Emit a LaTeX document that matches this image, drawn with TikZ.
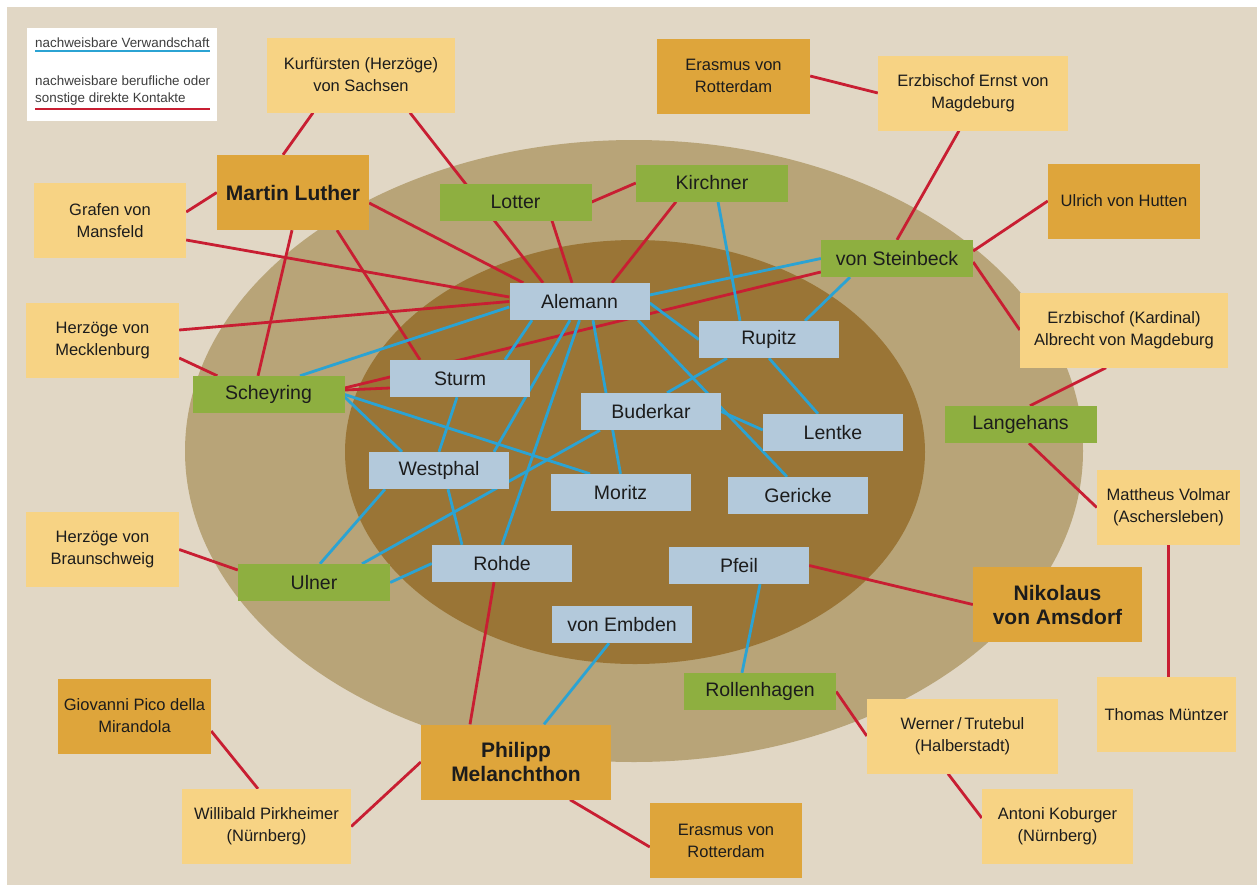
\documentclass[tikz,border=0pt]{standalone}
\usepackage{fontspec}
\setmainfont{Liberation Sans}

\definecolor{paper}{HTML}{E1D7C5}
\definecolor{ringout}{HTML}{B8A478}
\definecolor{ringin}{HTML}{9A7536}
\definecolor{sand}{HTML}{F7D384}
\definecolor{amber}{HTML}{DEA53B}
\definecolor{leaf}{HTML}{8EAF40}
\definecolor{sky}{HTML}{B3C9DB}
\definecolor{kinblue}{HTML}{2BA3D3}
\definecolor{contactred}{HTML}{C81E32}
\definecolor{ink}{HTML}{1C1C1C}

\pgfdeclarelayer{back}
\pgfdeclarelayer{wires}
\pgfsetlayers{back,wires,main}

\tikzset{
	box/.style={inner sep=0pt, align=center, text=ink},
	kin/.style={draw=kinblue, line width=2.8pt},
	contact/.style={draw=contactred, line width=2.8pt},
	inner/.style={box, fill=sky, minimum width=140pt, minimum height=37pt, font=\fontsize{19.5}{22}\selectfont},
	ring/.style={box, fill=leaf, minimum width=152pt, minimum height=37pt, font=\fontsize{19.5}{22}\selectfont},
	outside/.style={box, fill=sand, minimum height=75pt, font=\fontsize{16.5}{22}\selectfont},
	famous/.style={box, fill=amber, minimum height=75pt, font=\fontsize{16.5}{22}\selectfont},
	reformer/.style={famous, font=\bfseries\fontsize{21}{24}\selectfont},
	legendtext/.style={inner sep=0pt, anchor=west, align=left, text=ink!85, font=\fontsize{13.4}{17}\selectfont}
}

\begin{document}
\begin{tikzpicture}[x=1pt, y=-1pt]
	\useasboundingbox (0,0) rectangle (1259,887);

	% Rings
	\begin{pgfonlayer}{back}
		\fill[white] (0,0) rectangle (1259,887);
		\fill[paper] (7,7) rectangle (1257,885);
		\fill[ringout] (634,451) ellipse [x radius=449pt, y radius=311pt];
		\fill[ringin] (635,452) ellipse [x radius=290pt, y radius=212pt];
	\end{pgfonlayer}

	% Legend
	\node[fill=white, inner sep=0pt, minimum width=190pt, minimum height=93pt] (legend) at (122,74.5) {};
	\node[legendtext] (legkin) at (35,43) {nachweisbare Verwandschaft};
	\node[legendtext] (legcon) at (35,90.5) {nachweisbare berufliche oder\\sonstige direkte Kontakte};
	\draw[kin, line width=2.2pt] ([yshift=-8pt]legkin.west) -- ++(175,0);
	\draw[contact, line width=2.2pt] ([yshift=-18.5pt]legcon.west) -- ++(175,0);

	% Inner ring
	\node[inner] (alemann) at (579.5,301.5) {Alemann};
	\node[inner] (rupitz) at (769,339.5) {Rupitz};
	\node[inner] (sturm) at (460,378.5) {Sturm};
	\node[inner] (buderkar) at (651,411.5) {Buderkar};
	\node[inner] (lentke) at (833,432.5) {Lentke};
	\node[inner] (westphal) at (439,470.5) {Westphal};
	\node[inner] (moritz) at (620.5,492.5) {Moritz};
	\node[inner] (gericke) at (798,495.5) {Gericke};
	\node[inner] (rohde) at (502,563.5) {Rohde};
	\node[inner] (pfeil) at (739,565.5) {Pfeil};
	\node[inner] (embden) at (622,624.5) {von Embden};

	% Outer ring
	\node[ring] (lotter) at (515.5,202) {Lotter};
	\node[ring] (kirchner) at (712,183) {Kirchner};
	\node[ring] (steinbeck) at (897,258.5) {von Steinbeck};
	\node[ring] (scheyring) at (268.5,394.5) {Scheyring};
	\node[ring] (ulner) at (314,582.5) {Ulner};
	\node[ring] (langehans) at (1020.5,424.5) {Langehans};
	\node[ring] (rollenhagen) at (760,691.5) {Rollenhagen};

	% Outside
	\node[outside, minimum width=188pt] (kurf) at (361,75) {Kurfürsten (Herzöge)\\von Sachsen};
	\node[outside, minimum width=152pt] (grafen) at (110,220.5) {Grafen von\\Mansfeld};
	\node[outside, minimum width=190pt] (ernst) at (973,93) {Erzbischof Ernst von\\Magdeburg};
	\node[outside, minimum width=153pt] (meckl) at (102.5,340.5) {Herzöge von\\Mecklenburg};
	\node[outside, minimum width=153pt] (braun) at (102.5,549.5) {Herzöge von\\Braunschweig};
	\node[outside, minimum width=208pt] (albrecht) at (1124,330) {Erzbischof (Kardinal)\\Albrecht von Magdeburg};
	\node[outside, minimum width=143pt] (volmar) at (1168.5,507.5) {Mattheus Volmar\\(Aschersleben)};
	\node[outside, minimum width=139pt] (muentzer) at (1166.5,714.5) {Thomas Müntzer};
	\node[outside, minimum width=191pt] (werner) at (962.5,736) {Werner\,/\,Trutebul\\(Halberstadt)};
	\node[outside, minimum width=151pt] (koburger) at (1057.5,826.5) {Antoni Koburger\\(Nürnberg)};
	\node[outside, minimum width=169pt] (pirkheimer) at (266.5,826.5) {Willibald Pirkheimer\\(Nürnberg)};

	\node[famous, minimum width=153pt] (erasmusA) at (733.5,76) {Erasmus von\\Rotterdam};
	\node[famous, minimum width=152pt] (hutten) at (1124,201) {Ulrich von Hutten};
	\node[famous, minimum width=152pt] (erasmusB) at (726,840.5) {Erasmus von\\Rotterdam};
	\node[famous, minimum width=153pt] (pico) at (134.5,716) {Giovanni Pico della\\Mirandola};

	\node[reformer, minimum width=152pt] (luther) at (293,192.5) {Martin Luther};
	\node[reformer, minimum width=190pt] (melanchthon) at (516,762) {Philipp\\Melanchthon};
	\node[reformer, minimum width=169pt] (amsdorf) at (1057.5,604.5) {Nikolaus\\von Amsdorf};

	\begin{pgfonlayer}{wires}
		% Contacts
		\draw[contact] ([xshift=-48pt]kurf.south) -- ([xshift=-10pt]luther.north);
		\draw[contact] ([xshift=49pt]kurf.south) -- ([xshift=-36.5pt]alemann.north);
		\draw[contact] (luther.west) -- ([yshift=8.5pt]grafen.east);
		\draw[contact] ([yshift=-10.5pt]luther.east) -- ([xshift=14pt]alemann.north west);
		\draw[contact] ([xshift=44pt]luther.south) -- ([xshift=-40pt]sturm.north);
		\draw[contact] ([xshift=-1pt]luther.south) -- ([xshift=-10.5pt]scheyring.north);
		\draw[contact] ([yshift=-19.5pt]grafen.east) -- ([yshift=4.5pt]alemann.west);
		\draw[contact] ([yshift=10.5pt]meckl.east) -- (alemann.west);
		\draw[contact] ([yshift=-17.5pt]meckl.east) -- ([xshift=25pt]scheyring.north west);
		\draw[contact] ([yshift=4.5pt]scheyring.east) -- ([yshift=-9.5pt]sturm.west);
		\draw[contact] ([yshift=6.5pt]scheyring.east) -- ([yshift=-13.5pt]steinbeck.west);
		\draw[contact] ([xshift=36.5pt]lotter.south) -- ([xshift=-7.5pt]alemann.north);
		\draw[contact] (lotter.east) -- (kirchner.west);
		\draw[contact] ([xshift=-36pt]kirchner.south) -- ([xshift=32.5pt]alemann.north);
		\draw[contact] (erasmusA.east) -- (ernst.west);
		\draw[contact] ([xshift=-14pt]ernst.south) -- (steinbeck.north);
		\draw[contact] (hutten.west) -- ([yshift=7.5pt]steinbeck.east);
		\draw[contact] ([yshift=-3.5pt]steinbeck.east) -- (albrecht.west);
		\draw[contact] ([xshift=-18pt]albrecht.south) -- ([xshift=9.5pt]langehans.north);
		\draw[contact] ([xshift=8.5pt]langehans.south) -- (volmar.west);
		\draw[contact] (volmar.south) -- (volmar.south |- muentzer.north);
		\draw[contact] (pfeil.east) -- (amsdorf.west);
		\draw[contact] (rollenhagen.east) -- (werner.west);
		\draw[contact] ([xshift=-14.5pt]werner.south) -- ([yshift=8.5pt]koburger.west);
		\draw[contact] ([xshift=-8pt]rohde.south) -- ([xshift=-46pt]melanchthon.north);
		\draw[contact] (melanchthon.west) -- (pirkheimer.east);
		\draw[contact] ([yshift=-15pt]pico.east) -- ([xshift=-8.5pt]pirkheimer.north);
		\draw[contact] ([xshift=54pt]melanchthon.south) -- ([yshift=-6.5pt]erasmusB.west);
		\draw[contact] (braun.east) -- ([yshift=12.5pt]ulner.west);

		% Kinship
		\draw[kin] ([yshift=6.5pt]alemann.east) -- (steinbeck.west);
		\draw[kin] ([yshift=-5.5pt]alemann.west) -- ([xshift=31.5pt]scheyring.north);
		\draw[kin] ([yshift=-1.5pt]alemann.east) -- (rupitz.west);
		\draw[kin] ([xshift=-47.5pt]alemann.south) -- ([xshift=45pt]sturm.north);
		\draw[kin] ([xshift=-9.5pt]alemann.south) -- ([xshift=55pt]westphal.north);
		\draw[kin] (alemann.south) -- (rohde.north);
		\draw[kin] ([xshift=13.5pt]alemann.south) -- (moritz.north);
		\draw[kin] ([xshift=58.5pt]alemann.south) -- ([xshift=-11pt]gericke.north);
		\draw[kin] ([xshift=6pt]kirchner.south) -- ([xshift=-29pt]rupitz.north);
		\draw[kin] ([xshift=-47pt]steinbeck.south) -- ([xshift=36pt]rupitz.north);
		\draw[kin] ([xshift=-42pt]rupitz.south) -- ([xshift=16pt]buderkar.north);
		\draw[kin] (rupitz.south) -- ([xshift=-15pt]lentke.north);
		\draw[kin] (buderkar.east) -- ([yshift=2.5pt]lentke.west);
		\draw[kin] ([xshift=-51pt]buderkar.south) -- ([xshift=48pt]ulner.north);
		\draw[kin] ([yshift=-2.5pt]scheyring.east) -- ([xshift=-37pt]westphal.north);
		\draw[kin] (scheyring.east) -- ([xshift=-30.5pt]moritz.north);
		\draw[kin] ([xshift=-3pt]sturm.south) -- (westphal.north);
		\draw[kin] ([xshift=9pt]westphal.south) -- ([xshift=-40pt]rohde.north);
		\draw[kin] ([xshift=-54pt]westphal.south) -- ([xshift=6pt]ulner.north);
		\draw[kin] (rohde.west) -- (ulner.east);
		\draw[kin] ([xshift=21pt]pfeil.south) -- ([xshift=-18pt]rollenhagen.north);
		\draw[kin] ([xshift=-13pt]embden.south) -- ([xshift=28pt]melanchthon.north);
	\end{pgfonlayer}
\end{tikzpicture}
\end{document}
